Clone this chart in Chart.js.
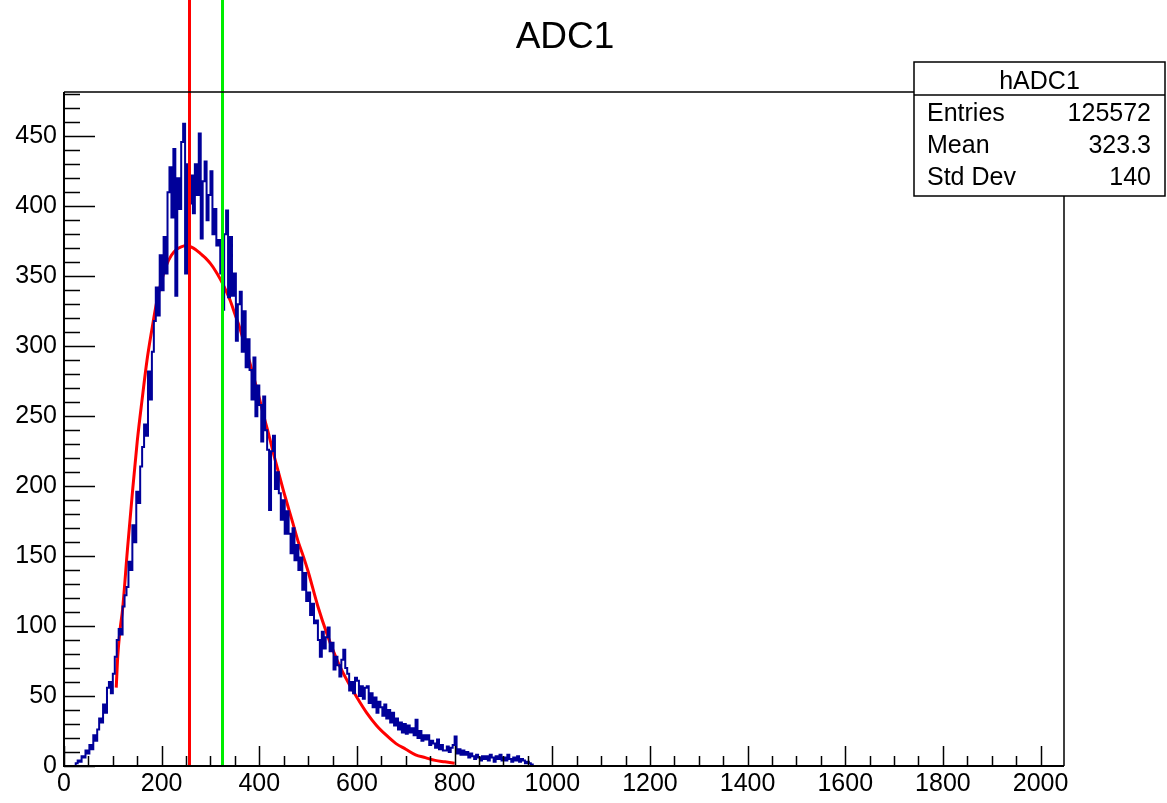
<!DOCTYPE html>
<html>
<head>
<meta charset="utf-8">
<title>ADC1</title>
<script src="https://cdn.jsdelivr.net/npm/chart.js@4.4.1/dist/chart.umd.min.js"></script>
<style>
  html, body { margin: 0; padding: 0; background: #ffffff; }
  #wrap { width: 1167px; height: 803px; position: relative; }
</style>
</head>
<body>
<div id="wrap"><canvas id="adc-chart"></canvas></div>
<script>
// hADC1 histogram: bins of 4 ADC counts, first bin starts at 20
var binStart = 20;
var binWidth = 4;
var counts = [
  0, 2, 4, 3, 7, 6, 11, 9, 15, 12,                // 20-56
  22, 18, 26, 34, 31, 44, 38, 56, 60, 52,         // 60-96
  66, 78, 90, 98, 94, 114, 122, 128, 146, 140,    // 100-136
  172, 160, 196, 188, 214, 228, 244, 236, 282, 262, // 140-176
  296, 318, 342, 322, 365, 340, 378, 352, 410, 428, // 180-216
  392, 441, 336, 420, 398, 446, 459, 352, 430, 402, // 220-256
  422, 395, 430, 408, 452, 377, 418, 432, 390, 408, // 260-296
  425, 380, 398, 372, 376, 352, 326, 380, 397, 335, // 300-336
  378, 336, 352, 304, 330, 339, 296, 325, 285, 305, // 340-376
  283, 262, 292, 250, 272, 258, 232, 264, 240, 226, // 380-416
  183, 225, 236, 198, 210, 195, 176, 190, 166, 182, // 420-456
  166, 152, 170, 147, 158, 140, 149, 126, 138, 118, // 460-496
  124, 108, 116, 102, 104, 90, 78, 96, 84, 92,    // 500-536
  99, 82, 88, 69, 78, 72, 64, 76, 83, 70,         // 540-576
  66, 54, 60, 52, 63, 61, 50, 57, 48, 56,         // 580-616
  57, 45, 52, 42, 49, 38, 46, 42, 36, 44,         // 620-656
  34, 40, 31, 38, 29, 34, 26, 31, 24, 30,         // 660-696
  23, 29, 24, 27, 22, 33, 20, 25, 18, 22,         // 700-736
  19, 22, 15, 18, 16, 13, 19, 12, 15, 11,         // 740-776
  11, 14, 10, 13, 15, 21, 9, 12, 8, 11,           // 780-816
  8, 10, 6, 9, 7, 5, 8, 6, 4, 7,                  // 820-856
  5, 7, 4, 8, 6, 3, 7, 5, 8, 4,                   // 860-896
  6, 4, 8, 5, 3, 6, 4, 7, 3, 5,                   // 900-936
  4, 2, 3, 2, 1                                   // 940-956
];

// fit function (red curve)
var fitX = [107, 110, 115, 120, 130, 140, 150, 160, 170, 180, 190, 200, 210, 220, 230, 240, 250, 260, 270,
            280, 290, 300, 310, 320, 330, 340, 350, 360, 370, 380, 390, 400, 410, 420, 430, 440, 450, 460, 470,
            480, 490, 500, 520, 540, 560, 580, 600, 620, 640, 660, 680, 700, 720, 740, 760, 780, 800];
var fitY = [56, 78, 98, 112, 155, 195, 232, 262, 290, 312, 332, 347, 358, 365, 369, 371, 372, 371, 369,
            366, 363, 359, 354, 348, 341, 333, 323, 313, 301, 289, 276, 263, 249, 236, 222, 209, 196, 184, 172,
            160, 150, 139, 114, 93, 75, 61, 49, 38, 29, 22, 16, 12, 8, 6, 4, 3, 2];

// vertical lines: fit peak (red) and mean (green)
var markerX = [255, 323.3];

// axes
var xRange = [0, 2048];
var yRange = [0, 481.7];
var xTicks = [0, 200, 400, 600, 800, 1000, 1200, 1400, 1600, 1800, 2000];
var yTicks = [0, 50, 100, 150, 200, 250, 300, 350, 400, 450];
var xMinor = 50;
var yMinor = 10;

// stats box
var chartTitle = "ADC1";
var statsTitle = "hADC1";
var statsNames = ["Entries", "Mean", "Std Dev"];
var statsValues = ["125572", "323.3", "140"];

var histPoints = counts.map(function (c, i) {
  return { x: binStart + i * binWidth, y: c };
});
histPoints.push({ x: binStart + counts.length * binWidth, y: 0 });

var fitPoints = fitX.map(function (x, i) {
  return { x: x, y: fitY[i] };
});

var FONT = '"Liberation Sans", Arial, Helvetica, sans-serif';

// ROOT look: frame, inner ticks, title, markers, stats box
var rootStyle = {
  id: 'rootStyle',
  afterDatasetsDraw: function (chart) {
    var ctx = chart.ctx;
    var a = chart.chartArea;
    var sx = chart.scales.x;
    var sy = chart.scales.y;
    ctx.save();

    // marker lines
    var markerColors = ['#ff0000', '#00ee00'];
    markerX.forEach(function (v, i) {
      var px = Math.round(sx.getPixelForValue(v)) + 0.5;
      ctx.strokeStyle = markerColors[i];
      ctx.lineWidth = 3;
      ctx.beginPath();
      ctx.moveTo(px, 0);
      ctx.lineTo(px, a.bottom);
      ctx.stroke();
    });

    // frame
    ctx.strokeStyle = '#000000';
    ctx.lineWidth = 1.5;
    ctx.beginPath();
    ctx.moveTo(a.left, a.top);
    ctx.lineTo(a.right, a.top);
    ctx.lineTo(a.right, a.bottom);
    ctx.stroke();
    ctx.lineWidth = 2;
    ctx.beginPath();
    ctx.moveTo(a.left, a.top);
    ctx.lineTo(a.left, a.bottom);
    ctx.lineTo(a.right, a.bottom);
    ctx.stroke();

    // ticks drawn inside the frame
    ctx.lineWidth = 1.5;
    ctx.beginPath();
    for (var v = xRange[0]; v <= xRange[1]; v += xMinor) {
      var px = Math.round(sx.getPixelForValue(v)) + 0.5;
      var len = (v % 200 === 0) ? 20 : 10;
      ctx.moveTo(px, a.bottom);
      ctx.lineTo(px, a.bottom - len);
    }
    for (var w = yRange[0]; w <= yRange[1]; w += yMinor) {
      var py = Math.round(sy.getPixelForValue(w)) + 0.5;
      var len2 = (w % 50 === 0) ? 31 : 16;
      ctx.moveTo(a.left, py);
      ctx.lineTo(a.left + len2, py);
    }
    ctx.stroke();

    // title
    ctx.fillStyle = '#000000';
    ctx.font = '37px ' + FONT;
    ctx.textAlign = 'center';
    ctx.textBaseline = 'alphabetic';
    ctx.fillText(chartTitle, (a.left + a.right) / 2 + 1, 48);

    // stats box
    var bx = 914, by = 62, bw = 251, bh = 134;
    ctx.fillStyle = '#ffffff';
    ctx.fillRect(bx, by, bw, bh);
    ctx.strokeStyle = '#000000';
    ctx.lineWidth = 1.5;
    ctx.strokeRect(bx, by, bw, bh);
    ctx.beginPath();
    ctx.moveTo(bx, 95);
    ctx.lineTo(bx + bw, 95);
    ctx.stroke();

    ctx.fillStyle = '#000000';
    ctx.font = '25px ' + FONT;
    ctx.textAlign = 'center';
    ctx.fillText(statsTitle, bx + bw / 2, 89);
    var rowBase = [121, 153, 185];
    statsNames.forEach(function (name, i) {
      ctx.textAlign = 'left';
      ctx.fillText(name, 927, rowBase[i]);
      ctx.textAlign = 'right';
      ctx.fillText(statsValues[i], 1151, rowBase[i]);
    });

    ctx.restore();
  }
};

var ctx = document.getElementById("adc-chart").getContext('2d');

var data = {
  datasets: [
    {
      label: 'hADC1',
      data: histPoints,
      borderColor: '#000099',
      backgroundColor: '#000099',
      borderWidth: 2,
      pointRadius: 0,
      stepped: 'before',
      fill: false
    },
    {
      label: 'fit',
      data: fitPoints,
      borderColor: '#ff0000',
      backgroundColor: '#ff0000',
      borderWidth: 3,
      pointRadius: 0,
      cubicInterpolationMode: 'monotone',
      fill: false
    }
  ]
};

var options = {
  responsive: true,
  maintainAspectRatio: false,
  animation: false,
  layout: {
    padding: { left: 0, right: 103, top: 92, bottom: 0 }
  },
  plugins: {
    legend: { display: false },
    tooltip: { enabled: false },
    title: { display: false }
  },
  scales: {
    x: {
      type: 'linear',
      min: xRange[0],
      max: xRange[1],
      grid: { display: false, drawTicks: false },
      border: { display: false },
      afterBuildTicks: function (scale) {
        scale.ticks = xTicks.map(function (v) { return { value: v }; });
      },
      afterFit: function (scale) { scale.height = 37; },
      ticks: {
        autoSkip: false,
        maxRotation: 0,
        padding: 3,
        color: '#000000',
        font: { family: FONT, size: 25 },
        callback: function (v) { return String(v); }
      }
    },
    y: {
      type: 'linear',
      min: yRange[0],
      max: yRange[1],
      grid: { display: false, drawTicks: false },
      border: { display: false },
      afterBuildTicks: function (scale) {
        scale.ticks = yTicks.map(function (v) { return { value: v }; });
      },
      afterFit: function (scale) { scale.width = 64; },
      ticks: {
        autoSkip: false,
        padding: 7,
        color: '#000000',
        font: { family: FONT, size: 25 },
        callback: function (v) { return String(v); }
      }
    }
  }
};

var chart = new Chart(ctx, {
  type: 'line',
  data: data,
  options: options,
  plugins: [rootStyle]
});
</script>
</body>
</html>
